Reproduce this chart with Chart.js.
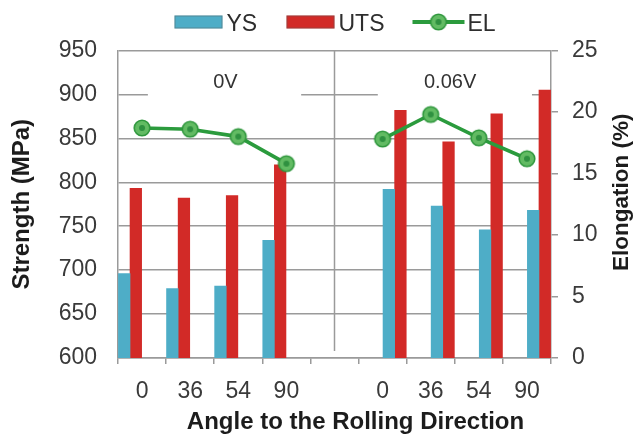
<!DOCTYPE html>
<html>
<head>
<meta charset="utf-8">
<script src="https://cdn.jsdelivr.net/npm/chart.js@4/dist/chart.umd.min.js"></script>
<style>
  html, body { margin: 0; padding: 0; background: #ffffff; }
  #wrap { width: 636px; height: 434px; }
</style>
</head>
<body>
<div id="wrap"><canvas id="c" width="636" height="434"></canvas></div>
<script>
// Angles to the rolling direction, for each processing condition
const angles = ['0', '36', '54', '90'];
const conditions = ['0V', '0.06V'];

// Yield strength, tensile strength (MPa) and elongation (%)
const ys0V = [696, 679, 682, 734];
const uts0V = [793, 782, 785, 820];
const el0V = [18.7, 18.6, 18.0, 15.8];
const ys006V = [792, 773, 746, 768];
const uts006V = [882, 846, 878, 905];
const el006V = [17.8, 19.8, 17.9, 16.2];

// Axis tick values
const strengthTicks = [600, 650, 700, 750, 800, 850, 900, 950];
const elongationTicks = [0, 5, 10, 15, 20, 25];

const FONT = "'Liberation Sans', Arial, sans-serif";
const GRID = '#9a9a9a';
const TXT = '#3a3a3a';
const TITLE = '#1c1c1c';
const C_YS = '#4eadc7';
const C_UTS = '#d22a27';
const C_EL = '#2b9b3d';

// Category axis: two groups of angles separated by an empty slot
const xLabels = [...angles, '', ...angles];
const elLine = [...el0V, null, ...el006V];

// Bars sit on a finer hidden axis (two slots per visible category)
const SLOTS = xLabels.length * 2;
const slotOf = (g, i) => (g === 0 ? 0 : 11) + 2 * i;
function toSlots(a, b) {
  const out = new Array(SLOTS).fill(null);
  a.forEach((v, i) => { out[slotOf(0, i)] = v; });
  b.forEach((v, i) => { out[slotOf(1, i)] = v; });
  return out;
}

function makeMarker() {
  const c = document.createElement('canvas');
  c.width = 20; c.height = 20;
  const g = c.getContext('2d');
  g.beginPath(); g.arc(10, 10, 7.8, 0, Math.PI * 2);
  g.fillStyle = '#62bb63'; g.fill();
  g.lineWidth = 1.6; g.strokeStyle = '#2e963c'; g.stroke();
  g.beginPath(); g.arc(10, 10, 3, 0, Math.PI * 2);
  g.fillStyle = '#2f9140'; g.fill();
  return c;
}
const marker = makeMarker();

const decor = {
  id: 'decor',
  beforeDatasetsDraw(chart) {
    const { ctx, chartArea: a, scales } = chart;
    const w = a.right - a.left;
    ctx.save();
    // divider between the two conditions
    const xd = scales.x.getPixelForValue(4);
    ctx.strokeStyle = GRID; ctx.lineWidth = 1.5;
    ctx.beginPath(); ctx.moveTo(xd, a.top); ctx.lineTo(xd, scales.y.getPixelForValue(608)); ctx.stroke();
    // condition labels on white boxes
    const yTop = scales.y.getPixelForValue(929), yBot = scales.y.getPixelForValue(893);
    const boxes = [[0.069, 0.423, 0.248], [0.600, 0.956, 0.767]];
    ctx.font = '20px ' + FONT;
    ctx.textAlign = 'center'; ctx.textBaseline = 'middle';
    boxes.forEach((b, k) => {
      ctx.fillStyle = '#ffffff';
      ctx.fillRect(a.left + b[0] * w, yTop, (b[1] - b[0]) * w, yBot - yTop);
      ctx.fillStyle = '#333333';
      ctx.fillText(conditions[k], a.left + b[2] * w, scales.y.getPixelForValue(914));
    });
    ctx.restore();
  },
  afterDraw(chart) {
    const { ctx, chartArea: a } = chart;
    const cx = (a.left + a.right) / 2;
    ctx.save();
    // legend
    const ly = 22;
    ctx.font = '23px ' + FONT;
    ctx.textBaseline = 'middle'; ctx.textAlign = 'left';
    const boxItem = (x0, color, label) => {
      ctx.fillStyle = color;
      ctx.fillRect(x0, ly - 6.5, 48, 13);
      ctx.strokeStyle = 'rgba(90,90,90,0.45)'; ctx.lineWidth = 1;
      ctx.strokeRect(x0 + 0.5, ly - 6, 47, 12);
      ctx.fillStyle = '#2e2e2e';
      ctx.fillText(label, x0 + 52, ly + 3);
    };
    boxItem(cx - 160, C_YS, 'YS');
    boxItem(cx - 48, C_UTS, 'UTS');
    const ex = cx + 78;
    ctx.strokeStyle = C_EL; ctx.lineWidth = 4;
    ctx.beginPath(); ctx.moveTo(ex, ly); ctx.lineTo(ex + 52, ly); ctx.stroke();
    ctx.drawImage(marker, ex + 26 - 10, ly - 10);
    ctx.fillStyle = '#2e2e2e';
    ctx.fillText('EL', ex + 55, ly + 3);

    // axis titles
    ctx.fillStyle = TITLE;
    ctx.textAlign = 'center';
    ctx.font = 'bold 24px ' + FONT;
    ctx.textBaseline = 'alphabetic';
    ctx.fillText('Angle to the Rolling Direction', cx + 21, 429);
    ctx.textBaseline = 'middle';
    ctx.save();
    ctx.translate(22.5, (a.top + a.bottom) / 2);
    ctx.rotate(-Math.PI / 2);
    ctx.fillText('Strength (MPa)', 0, 0);
    ctx.restore();
    ctx.save();
    ctx.font = 'bold 22.5px ' + FONT;
    ctx.translate(621.5, (a.top + a.bottom) / 2 - 12);
    ctx.rotate(-Math.PI / 2);
    ctx.fillText('Elongation (%)', 0, 0);
    ctx.restore();
    ctx.restore();
  }
};

new Chart(document.getElementById('c'), {
  data: {
    labels: xLabels,
    datasets: [
      {
        type: 'line', label: 'EL', data: elLine, xAxisID: 'x', yAxisID: 'y1',
        borderColor: C_EL, borderWidth: 3.6, spanGaps: false, tension: 0,
        pointStyle: marker, pointRadius: 10, order: 0
      },
      {
        type: 'bar', label: 'YS', data: toSlots(ys0V, ys006V), xAxisID: 'xb', yAxisID: 'y',
        backgroundColor: C_YS, barThickness: 11.6, order: 1
      },
      {
        type: 'bar', label: 'UTS', data: toSlots(uts0V, uts006V), xAxisID: 'xb', yAxisID: 'y',
        backgroundColor: C_UTS, barThickness: 11.6, order: 1
      }
    ]
  },
  options: {
    responsive: false,
    animation: false,
    devicePixelRatio: 1,
    layout: { padding: { top: 50.5, left: 0, right: 0, bottom: 0 } },
    plugins: { legend: { display: false }, tooltip: { enabled: false } },
    scales: {
      x: {
        type: 'category', position: 'bottom', offset: true,
        grid: { display: true, drawOnChartArea: false, drawTicks: true, tickLength: 6, color: GRID, lineWidth: 1.5, offset: true },
        border: { display: true, color: GRID, width: 1.5 },
        ticks: { font: { family: FONT, size: 23 }, color: TXT, padding: 14, maxRotation: 0, autoSkip: false },
        afterFit(s) { s.height = 76; }
      },
      xb: {
        type: 'category', labels: new Array(SLOTS).fill(''), display: false, offset: true,
        grid: { offset: true }
      },
      y: {
        position: 'left',
        min: strengthTicks[0], max: strengthTicks[strengthTicks.length - 1],
        afterBuildTicks(s) { s.ticks = strengthTicks.map(v => ({ value: v })); },
        grid: { color: GRID, lineWidth: 1.5, drawTicks: false },
        border: { display: true, color: GRID, width: 1.5 },
        ticks: { font: { family: FONT, size: 23 }, color: TXT, padding: 21 },
        afterFit(s) { s.width = 118; }
      },
      y1: {
        position: 'right',
        min: elongationTicks[0], max: elongationTicks[elongationTicks.length - 1],
        afterBuildTicks(s) { s.ticks = elongationTicks.map(v => ({ value: v })); },
        grid: { drawOnChartArea: false, drawTicks: true, tickLength: 7, color: GRID, lineWidth: 1.5 },
        border: { display: true, color: GRID, width: 1.5 },
        ticks: { font: { family: FONT, size: 23 }, color: TXT, padding: 14 },
        afterFit(s) { s.width = 85; }
      }
    }
  },
  plugins: [decor]
});
</script>
</body>
</html>
